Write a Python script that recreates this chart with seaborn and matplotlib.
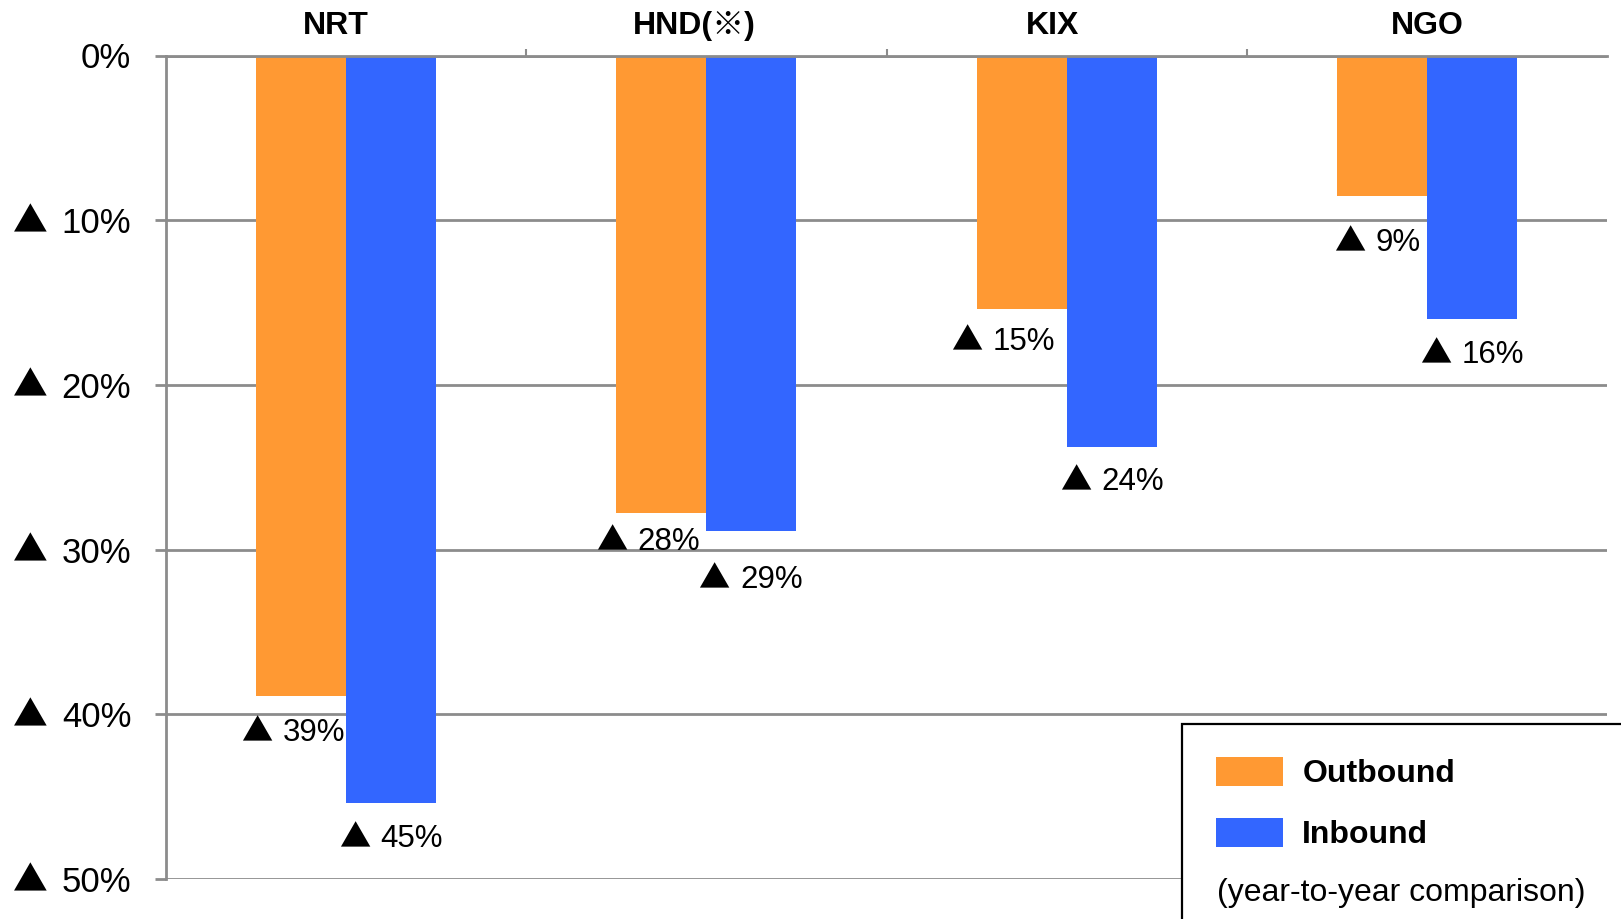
import matplotlib
matplotlib.use("Agg")
import matplotlib.pyplot as plt
from matplotlib.patches import Rectangle
from matplotlib.ticker import FixedLocator
from matplotlib.transforms import ScaledTranslation
import seaborn as sns
import pandas as pd

# ---- data ----
airports = ["NRT", "HND(※)", "KIX", "NGO"]
outbound = [-38.9, -27.8, -15.4, -8.55]   # year-to-year change, %
inbound = [-45.4, -28.9, -23.8, -16.0]
series_names = ["Outbound", "Inbound"]
y_ticks = [0, -10, -20, -30, -40, -50]
y_tick_labels = ["0%", "▲ 10%", "▲ 20%", "▲ 30%", "▲ 40%", "▲ 50%"]

# label placement (pixels): triangle-left offset from bar centre, baseline drop below bar end
label_dx_px = [[-57.5, -62.5, -68, -45], [-49.5, -50, -49, -49]]
label_dy_px = [[45, 37, 41, 55], [44, 57, 43, 44]]
cat_label_dx_px = [-10, -12, -14, 0]

colors = {"Outbound": "#FF9933", "Inbound": "#3366FF"}

df = pd.DataFrame({
    "airport": airports * 2,
    "direction": [series_names[0]] * 4 + [series_names[1]] * 4,
    "change": outbound + inbound,
})

sns.set_theme(style="white")
fams = ["Liberation Sans", "Noto Sans CJK JP", "DejaVu Sans"]
tri_fam = ["Noto Sans CJK JP", "DejaVu Sans"]
plt.rcParams["font.family"] = fams
plt.rcParams["text.color"] = "black"
plt.rcParams["xtick.labelcolor"] = "black"
plt.rcParams["ytick.labelcolor"] = "black"

DPI = 100
PT = 72 / DPI
fig = plt.figure(figsize=(16.21, 9.19), dpi=DPI)
ax = fig.add_axes([166 / 1621, 1 - 879 / 919, (1607 - 166) / 1621, (879 - 55.5) / 919])

sns.barplot(data=df, x="airport", y="change", hue="direction",
            hue_order=series_names, order=airports, palette=colors,
            width=0.5, saturation=1, linewidth=0, ax=ax, legend=True)

handles, labels = ax.get_legend_handles_labels()
ax.get_legend().remove()

ax.set_ylim(-50, 0)
ax.set_xlim(-0.5, len(airports) - 0.5)
grid_c = "#8c8c8c"
ax.yaxis.grid(True, color=grid_c, linewidth=2)
ax.set_axisbelow(True)

# y tick labels: number part as tick label, triangle drawn in CJK font
ax.set_yticks(y_ticks)
num_parts = [s.replace("▲", "").strip() for s in y_tick_labels]
ax.set_yticklabels(num_parts, fontsize=25, color="black")
ax.tick_params(axis="y", length=8, width=2, color=grid_c, pad=17, left=True,
               labelcolor="black")
for v, s in zip(y_ticks, y_tick_labels):
    if s.startswith("▲"):
        ax.annotate("▲", xy=(0, v), xycoords=("axes fraction", "data"),
                    xytext=(-153 * PT, -12 * PT), textcoords="offset points",
                    ha="left", va="baseline", fontsize=25, family=tri_fam,
                    color="black", annotation_clip=False)

ax.xaxis.tick_top()
ax.set_xticks(range(len(airports)))
ax.set_xticklabels(airports, fontsize=23, fontweight="bold", color="black")
ax.tick_params(axis="x", which="major", length=0, pad=10.5, labelcolor="black")
for lab, dx in zip(ax.get_xticklabels(), cat_label_dx_px):
    lab.set_transform(lab.get_transform() + ScaledTranslation(dx / DPI, 0, fig.dpi_scale_trans))
ax.xaxis.set_minor_locator(FixedLocator([0.5, 1.5, 2.5]))
ax.tick_params(axis="x", which="minor", top=True, length=5, width=1.5, color=grid_c)
ax.set_xlabel("")
ax.set_ylabel("")

for s in ["right", "bottom"]:
    ax.spines[s].set_visible(False)
for s in ["left", "top"]:
    ax.spines[s].set_color(grid_c)
    ax.spines[s].set_linewidth(2)

# value labels
for si, cont in enumerate(ax.containers):
    for ai, bar in enumerate(cont):
        xc = bar.get_x() + bar.get_width() / 2
        yb = bar.get_y() + bar.get_height()
        val = int(abs(yb) + 0.5)
        dx = label_dx_px[si][ai]
        dy = -label_dy_px[si][ai]
        ax.annotate("▲", (xc, yb), xytext=((dx - 3) * PT, dy * PT),
                    textcoords="offset points", ha="left", va="baseline",
                    fontsize=22.5, family=tri_fam, color="black",
                    annotation_clip=False)
        ax.annotate(f"{val:d}%", (xc, yb), xytext=((dx + 39) * PT, dy * PT),
                    textcoords="offset points", ha="left", va="baseline",
                    fontsize=22.5, color="black", annotation_clip=False)

# legend box
box = Rectangle((1182 / 1621, -0.1), 0.3, 0.1 + 1 - 724 / 919,
                transform=fig.transFigure, facecolor="white",
                edgecolor="black", linewidth=1.6, zorder=5, clip_on=False)
fig.patches.append(box)

leg = fig.legend(handles, labels, loc="upper left",
                 bbox_to_anchor=(1216 / 1621, 1 - 757 / 919),
                 frameon=False, borderpad=0, borderaxespad=0,
                 handlelength=2.1, handleheight=1.0, handletextpad=0.6,
                 labelspacing=0.9,
                 prop={"family": fams, "weight": "bold", "size": 23})
for t in leg.get_texts():
    t.set_color("black")
leg.set_zorder(6)
fig.text(1217 / 1621, 1 - 893 / 919, "(year-to-year comparison)",
         fontsize=23, ha="left", va="center", color="black", zorder=7)

fig.savefig("out.png", dpi=DPI, facecolor="white")
